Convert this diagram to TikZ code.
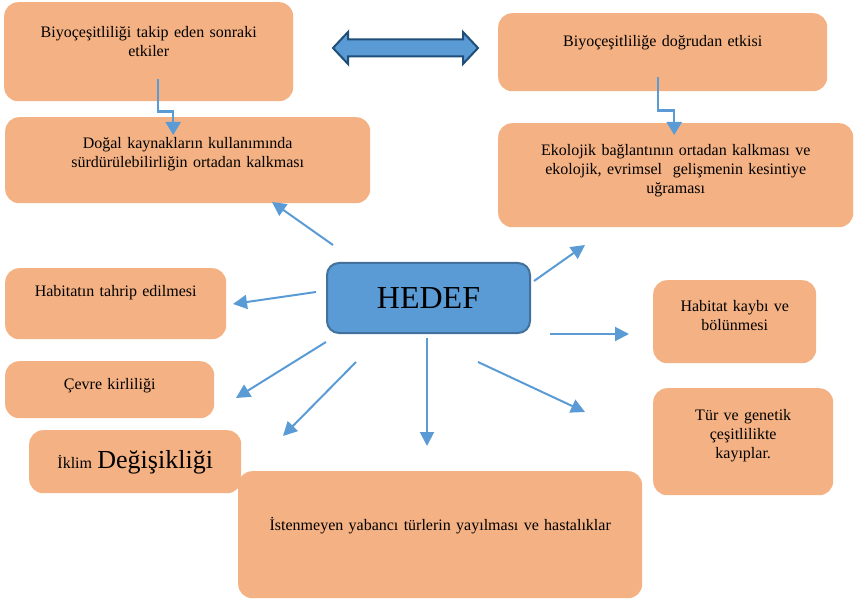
\documentclass[tikz,border=0pt]{standalone}
\usepackage{fontspec}
\setmainfont{Liberation Serif}
\usepackage{tikz}
\usetikzlibrary{positioning,arrows.meta,calc}
\definecolor{boxorange}{HTML}{F4B183}
\definecolor{hedefblue}{HTML}{5B9BD5}
\definecolor{hedefline}{HTML}{41719C}
\definecolor{darkarrow}{HTML}{1F4E79}

\begin{document}
\begin{tikzpicture}[x=1pt,y=-1pt,
  box/.style={fill=boxorange, rounded corners=14pt, inner sep=0pt, align=center, anchor=north west, font=\fontsize{16}{19}\selectfont},
  boxsize/.style n args={3}{text width=#1pt, text height=#2pt, text depth=#3pt},
  ray/.style={draw=hedefblue, line width=2pt, -{Triangle[length=14pt,width=14pt]}},
  steparr/.style={draw=hedefblue, line width=2.5pt, -{Triangle[length=13pt,width=15pt]}}]
\useasboundingbox (0,0) rectangle (861,601);

\node[box, boxsize={289}{35}{64}] (takip) at (4,2) {Biyoçeşitliliği takip eden sonraki\\ etkiler};
\node[box, boxsize={365}{31.3}{54.7}] (kaynak) at (5,117) {Doğal kaynakların kullanımında\\ sürdürülebilirliğin ortadan kalkması};
\node[box, boxsize={329}{33.7}{44.3}] (dogrudan) at (498,13) {Biyoçeşitliliğe doğrudan etkisi};
\node[box, boxsize={355}{32}{72}] (ekolojik) at (498,123) {Ekolojik bağlantının ortadan kalkması ve\\ ekolojik, evrimsel\ \ gelişmenin kesintiye\\ uğraması};
\node[box, boxsize={221}{28.7}{42.3}] (tahrip) at (5,268) {Habitatın tahrip edilmesi};
\node[box, boxsize={209}{28.3}{28.7}] (kirlilik) at (5,361) {Çevre kirliliği};
\node[box, boxsize={212}{38.3}{24.7}] (iklim) at (29,430) {İklim {\fontsize{26}{30}\selectfont Değişikliği}};
\node[box, boxsize={404}{59}{68}] (yabanci) at (238,471) {İstenmeyen yabancı türlerin yayılması ve hastalıklar};
\node[box, boxsize={163}{31}{52}] (kayip) at (653,280) {Habitat kaybı ve\\ bölünmesi};
\node[box, boxsize={180}{32}{75}] (tur) at (653,388) {Tür ve genetik\\ çeşitlilikte\\ kayıplar.};

\node[draw=hedefline, line width=2pt, fill=hedefblue, rounded corners=12pt, anchor=north west,
  minimum width=203pt, minimum height=70pt, font=\fontsize{32}{36}\selectfont] (hedef) at (326,262) {HEDEF};

\filldraw[fill=hedefblue, draw=darkarrow, line width=2pt] (333,48) -- (348,32) -- (348,39.5) -- (463,39.5)
  -- (463,32) -- (478,48) -- (463,64) -- (463,56.5) -- (348,56.5) -- (348,64) -- cycle;

\draw[steparr] ([xshift=9.5pt,yshift=22pt]takip.south) -- ++(0,32) -| ([xshift=-14.5pt,yshift=-18pt]kaynak.north);
\draw[steparr] ([xshift=-4.5pt,yshift=14pt]dogrudan.south) -- ++(0,33) -| ([xshift=-1.5pt,yshift=-12pt]ekolojik.north);

\coordinate (r1a) at (333,245); \coordinate (r1b) at (272,202);
\coordinate (r2a) at (316,292); \coordinate (r2b) at (233,304);
\coordinate (r3a) at (326,342); \coordinate (r3b) at (236,398);
\coordinate (r4a) at (356,362); \coordinate (r4b) at (283,436);
\coordinate (r5a) at (427,338); \coordinate (r5b) at (427,446);
\coordinate (r6a) at (478,362); \coordinate (r6b) at (585,412);
\coordinate (r7a) at (550,334); \coordinate (r7b) at (629,334);
\coordinate (r8a) at (534,281); \coordinate (r8b) at (585,245);
\foreach \i in {1,...,8}
  \draw[ray] (r\i a) -- (r\i b);
\end{tikzpicture}
\end{document}
